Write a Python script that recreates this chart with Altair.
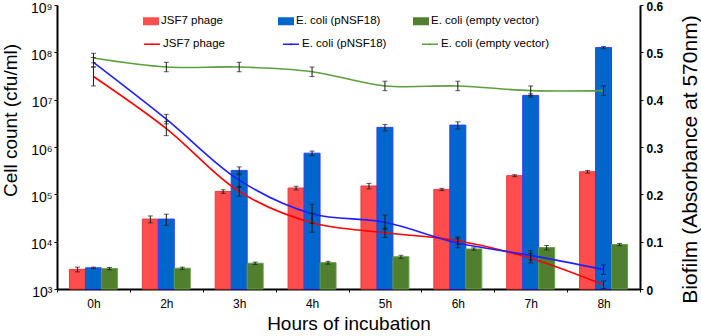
import altair as alt
import pandas as pd

# Sampling times and treatment groups
hours = ["0h", "2h", "3h", "4h", "5h", "6h", "7h", "8h"]
series = ["JSF7 phage", "E. coli (pNSF18)", "E. coli (empty vector)"]

# Cell counts (cfu/ml), bars on the log axis, with standard deviations
count_phage = [2.6e3, 3.0e4, 1.15e5, 1.36e5, 1.5e5, 1.27e5, 2.48e5, 3.0e5]
count_phage_sd = [0.3e3, 0.5e4, 0.1e5, 0.12e5, 0.2e5, 0.07e5, 0.12e5, 0.2e5]
count_pnsf = [2.8e3, 3.0e4, 3.2e5, 7.4e5, 2.6e6, 2.9e6, 1.23e7, 1.26e8]
count_pnsf_sd = [0.1e3, 0.8e4, 0.6e5, 0.8e5, 0.4e6, 0.5e6, 1.0e6, 0.07e8]
count_empty = [2.7e3, 2.75e3, 3.5e3, 3.6e3, 4.8e3, 7.0e3, 7.5e3, 8.7e3]
count_empty_sd = [0.15e3, 0.15e3, 0.2e3, 0.25e3, 0.35e3, 0.4e3, 0.8e3, 0.5e3]

# Biofilm (absorbance at 570 nm), lines on the right axis
bio_phage = [0.449, 0.339, 0.206, 0.140, 0.119, 0.102, 0.065, 0.009]
bio_phage_sd = [0.02, 0.015, 0.01, 0.02, 0.01, 0.008, 0.01, 0.008]
bio_pnsf = [0.479, 0.359, 0.230, 0.159, 0.141, 0.097, 0.071, 0.041]
bio_pnsf_sd = [0.01, 0.01, 0.015, 0.02, 0.015, 0.01, 0.01, 0.01]
bio_empty = [0.488, 0.469, 0.469, 0.459, 0.429, 0.429, 0.419, 0.419]
bio_empty_sd = [0.01, 0.01, 0.01, 0.01, 0.01, 0.01, 0.01, 0.01]

bar_fill = ["#FF4D4D", "#0066CC", "#4F7F2F"]
bar_edge = ["#E83A3A", "#2F3FFF", "#62A040"]
line_colors = ["#FF0000", "#1F1FFF", "#5E9E3E"]

SANS = "Liberation Sans, Arial"


def long_table(values, sds, key):
    rows = []
    for name, vals, errs in zip(series, values, sds):
        for h, v, e in zip(hours, vals, errs):
            rows.append({"hour": h, "series": name, "edge": name,
                         key: v, "lo": v - e, "hi": v + e})
    return pd.DataFrame(rows)


bars_df = long_table([count_phage, count_pnsf, count_empty],
                     [count_phage_sd, count_pnsf_sd, count_empty_sd], "count")
lines_df = long_table([bio_phage, bio_pnsf, bio_empty],
                      [bio_phage_sd, bio_pnsf_sd, bio_empty_sd], "od")

x_axis = alt.Axis(
    title="Hours of incubation", titleFont=SANS, titleFontSize=19,
    titleFontWeight="normal", titleColor="black", titleY=34,
    titleBaseline="middle",
    labelFont=SANS, labelFontSize=12, labelColor="black", labelAngle=0,
    labelPadding=6, tickBand="extent", tickSize=3, tickColor="black",
    domainColor="black", domainWidth=2, grid=False,
)
x_enc = alt.X("hour:N", sort=hours,
              scale=alt.Scale(type="band", paddingInner=0, paddingOuter=0),
              axis=x_axis)

sup = "['⁰','¹','²','³','⁴','⁵','⁶','⁷','⁸','⁹']"
y_left_axis = alt.Axis(
    title="Cell count (cfu/ml)", titleFont=SANS, titleFontSize=19,
    titleFontWeight="normal", titleColor="black", titleX=-47, titleY=115,
    titleAngle=270, titleBaseline="middle",
    values=[1e3, 1e4, 1e5, 1e6, 1e7, 1e8, 1e9],
    labelExpr="'10' + " + sup + "[round(log(datum.value) / LN10)]",
    labelFont=SANS, labelFontSize=14, labelColor="black", labelPadding=2,
    labelOffset=3,
    tickSize=3, tickColor="black", domainColor="black", domainWidth=2,
    grid=False,
)
y_left_scale = alt.Scale(type="log", domain=[1e3, 1e9], nice=False)

offset_enc = alt.XOffset("series:N", sort=series,
                         scale=alt.Scale(paddingInner=0, paddingOuter=0.78))

legend_common = dict(
    title=None, orient="none", legendX=86, direction="horizontal",
    columns=3, gridAlign="all", columnPadding=9, symbolSize=256,
    labelOffset=2, labelFont=SANS, labelFontSize=11.5, labelColor="black",
)

bars = alt.Chart(bars_df).mark_bar(strokeWidth=1).encode(
    x=x_enc,
    xOffset=offset_enc,
    y=alt.Y("count:Q", scale=y_left_scale, axis=y_left_axis),
    y2=alt.datum(1e3),
    fill=alt.Fill("series:N", sort=series,
                  scale=alt.Scale(domain=series, range=bar_fill),
                  legend=alt.Legend(legendY=8, symbolType="M-1,-0.5H1V0.5H-1Z",
                                    symbolStrokeWidth=0, **legend_common)),
    stroke=alt.Stroke("edge:N", sort=series,
                      scale=alt.Scale(domain=series, range=bar_edge),
                      legend=None),
)

bar_err = alt.Chart(bars_df).mark_rule(color="#1a1a1a", strokeWidth=1).encode(
    x=x_enc, xOffset=offset_enc,
    y=alt.Y("lo:Q", scale=y_left_scale, axis=y_left_axis),
    y2="hi:Q",
)
bar_cap_lo = alt.Chart(bars_df).mark_tick(color="#1a1a1a", thickness=1, size=5).encode(
    x=x_enc, xOffset=offset_enc,
    y=alt.Y("lo:Q", scale=y_left_scale, axis=y_left_axis),
)
bar_cap_hi = alt.Chart(bars_df).mark_tick(color="#1a1a1a", thickness=1, size=5).encode(
    x=x_enc, xOffset=offset_enc,
    y=alt.Y("hi:Q", scale=y_left_scale, axis=y_left_axis),
)

y_right_axis = alt.Axis(
    title="Biofilm (Absorbance at 570nm)", orient="right", titleFont=SANS,
    titleFontSize=21, titleFontWeight="normal", titleColor="black",
    titleX=50, titleY=154, titleAngle=270, titleBaseline="middle",
    values=[0, 0.1, 0.2, 0.3, 0.4, 0.5, 0.6],
    labelExpr="datum.value == 0 ? '0' : format(datum.value, '.1f')",
    labelFont=SANS, labelFontSize=12, labelFontWeight="bold",
    labelColor="black", labelPadding=3, labelOffset=1, tickSize=3,
    tickColor="black", domainColor="black", domainWidth=2, grid=False,
)
y_right_scale = alt.Scale(domain=[0, 0.6], nice=False)

lines = alt.Chart(lines_df).mark_line(strokeWidth=1.6, interpolate="catmull-rom").encode(
    x=x_enc,
    y=alt.Y("od:Q", scale=y_right_scale, axis=y_right_axis),
    stroke=alt.Stroke("series:N", sort=series,
                      scale=alt.Scale(domain=series, range=line_colors),
                      legend=alt.Legend(legendY=30, symbolType="M-1,0H1M0,-0.12V0.12",
                                        symbolStrokeWidth=1.5, **legend_common)),
)
line_err = alt.Chart(lines_df).mark_rule(color="#1a1a1a", strokeWidth=1).encode(
    x=x_enc,
    y=alt.Y("lo:Q", scale=y_right_scale, axis=y_right_axis),
    y2="hi:Q",
)
line_cap_lo = alt.Chart(lines_df).mark_tick(color="#1a1a1a", thickness=1, size=5).encode(
    x=x_enc,
    y=alt.Y("lo:Q", scale=y_right_scale, axis=y_right_axis),
)
line_cap_hi = alt.Chart(lines_df).mark_tick(color="#1a1a1a", thickness=1, size=5).encode(
    x=x_enc,
    y=alt.Y("hi:Q", scale=y_right_scale, axis=y_right_axis),
)

left = alt.layer(bars, bar_err, bar_cap_lo, bar_cap_hi)
right = alt.layer(lines, line_err, line_cap_lo, line_cap_hi)

chart = alt.layer(left, right).resolve_scale(
    y="independent", stroke="independent"
).properties(
    width=583, height=284,
    autosize=alt.AutoSizeParams(type="none"),
    padding={"left": 57, "top": 5, "right": 61, "bottom": 47},
    background="white",
).configure_view(stroke=None)

chart.save("out.html", embed_options={"renderer": "svg", "actions": False})
